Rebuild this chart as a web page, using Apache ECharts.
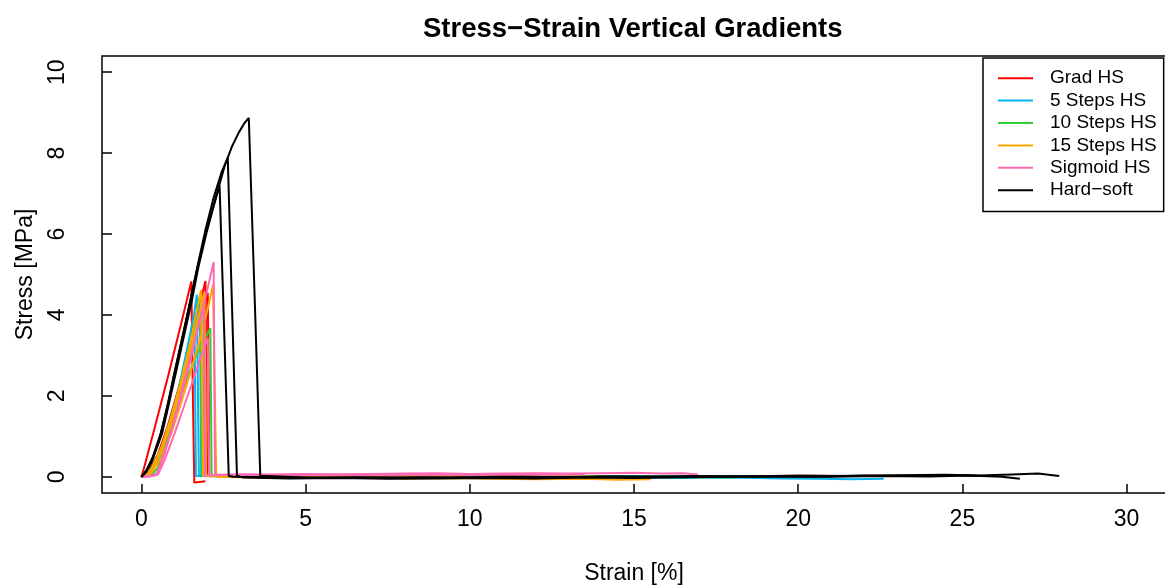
<!DOCTYPE html>
<html>
<head>
<meta charset="utf-8">
<script src="https://cdn.jsdelivr.net/npm/echarts@6/dist/echarts.min.js"></script>
<style>
html,body{margin:0;padding:0;background:#fff;}
#chart{width:1165px;height:585px;}
</style>
</head>
<body>
<div id="chart"></div>
<script>
// ---- labels / ticks ----
const chartTitle = 'Stress\u2212Strain Vertical Gradients';
const xAxisName = 'Strain [%]';
const yAxisName = 'Stress [MPa]';
const xTicks = [0, 5, 10, 15, 20, 25, 30];
const yTicks = [0, 2, 4, 6, 8, 10];
const groupNames = ['Grad HS', '5 Steps HS', '10 Steps HS', '15 Steps HS', 'Sigmoid HS', 'Hard\u2212soft'];
const groupColors = ['#FF0000', '#00B2EE', '#32CD32', '#FFA500', '#FF69B4', '#000000'];

// ---- specimen curves [strain %, stress MPa] ----
const gradHS = [
  [[0,0],[0.1,0.28],[0.4,1.2],[0.8,2.45],[1.2,3.75],[1.52,4.83],[1.56,2.4],[1.61,-0.14],[1.75,-0.13],[1.95,-0.11]],
  [[0,0],[0.2,0.1],[0.5,0.55],[0.8,1.25],[1.1,2.1],[1.4,3.0],[1.7,4.0],[1.95,4.84],[1.98,2.4],[2.0,0.04],[3,0.02],[4.5,0.01],[6,0.03],[7.5,0.01],[9,0.02],[10.5,0.01],[12,0.02]],
  [[0,0],[0.3,0.15],[0.6,0.65],[0.9,1.35],[1.2,2.2],[1.5,3.1],[1.8,3.95],[2.02,4.55],[2.05,2.2],[2.07,0.03],[3.5,0.0],[5,0.02],[6.5,0.0],[8,0.01],[9.5,0.0],[11,0.01]]
];
const steps5HS = [
  [[0,0],[0.2,0.08],[0.5,0.45],[0.8,1.15],[1.1,2.05],[1.4,3.2],[1.6,4.0],[1.69,4.5],[1.72,2.2],[1.75,0.03],[3,0.0],[4.5,-0.01],[6,0.01],[7.5,-0.01],[9,0.0],[10.5,-0.02],[12,-0.01],[13.5,-0.02],[15,-0.01],[16.5,-0.03],[18,-0.02],[19.5,-0.04],[20.7,-0.05],[21.6,-0.06],[22.6,-0.05]],
  [[0,0],[0.3,0.12],[0.6,0.55],[0.9,1.25],[1.2,2.1],[1.45,2.95],[1.62,3.55],[1.64,1.8],[1.66,0.02],[3,0.01],[4.5,0.0],[6,0.02],[7.5,0.0],[9,0.01],[10.5,0.0],[12,0.01],[13.5,0.0],[15,0.02],[16.5,0.0],[18,0.01],[19.2,0.0]],
  [[0,0],[0.3,0.18],[0.6,0.65],[0.9,1.4],[1.2,2.3],[1.5,3.3],[1.78,4.3],[1.8,2.1],[1.82,0.03],[3,0.01],[4.5,0.02],[6,0.0],[7.5,0.01],[9,0.0],[10.5,0.02],[12,0.0],[13.5,0.01],[15,0.0],[16.5,0.01],[18,0.0],[19.5,0.01],[21,0.0]]
];
const steps10HS = [
  [[0,0],[0.3,0.04],[0.5,0.22],[0.75,0.8],[1.0,1.45],[1.39,2.45],[1.7,3.05],[1.95,3.45],[2.1,3.67],[2.12,1.8],[2.14,0.03],[3.5,0.01],[5,0.02],[6.5,0.0],[8,0.01],[9.5,0.0],[11,0.02],[12.5,0.0],[14,0.01],[15.5,0.0],[17,0.01],[18,-0.01],[19,0.0]],
  [[0,0],[0.3,0.2],[0.6,0.7],[0.9,1.45],[1.2,2.35],[1.5,3.35],[1.8,4.54],[1.82,2.2],[1.84,0.03],[3,0.0],[4.5,0.01],[6,-0.01],[7.5,0.0],[9,0.01],[10.5,-0.01],[12,0.0],[13.5,0.01],[15,-0.01],[16.5,0.0],[18,-0.01]],
  [[0,0],[0.3,0.15],[0.6,0.6],[0.9,1.3],[1.2,2.15],[1.5,3.05],[1.72,3.8],[1.88,4.3],[1.9,2.1],[1.92,0.02],[3.5,0.0],[5,0.01],[6.5,0.0],[8,0.02],[9.5,0.0],[11,0.01],[12.5,0.0],[14,0.01],[15.5,0.0]]
];
const steps15HS = [
  [[0,0],[0.3,0.18],[0.6,0.7],[0.9,1.45],[1.2,2.35],[1.5,3.35],[1.82,4.62],[1.85,2.3],[1.88,0.02],[3,0.0],[4.5,-0.01],[6,0.0],[7.5,-0.01],[9,0.0],[10.5,-0.02],[12,-0.01],[13.5,0.0],[15,-0.01],[16.5,0.0],[17.2,-0.02]],
  [[0,0],[0.3,0.1],[0.6,0.45],[0.9,1.05],[1.2,1.8],[1.5,2.6],[1.8,3.45],[2.05,4.25],[2.18,4.76],[2.23,2.3],[2.28,0.0],[3.5,-0.02],[5,-0.03],[6.5,-0.02],[8,-0.04],[9.5,-0.03],[10.8,-0.05],[12,-0.06],[13.5,-0.05],[14.5,-0.07],[15.5,-0.06]],
  [[0,0],[0.3,0.14],[0.6,0.6],[0.9,1.3],[1.2,2.2],[1.5,3.15],[1.75,4.0],[1.92,4.55],[1.95,2.2],[1.97,0.02],[3.5,0.01],[5,0.0],[6.5,0.01],[8,0.0],[9.5,0.01],[11,0.0],[12.5,0.01],[14,0.0]]
];
const sigmoidHS = [
  [[0,0],[0.2,0.02],[0.45,0.05],[0.6,0.35],[0.9,1.1],[1.2,1.95],[1.5,2.9],[1.8,3.95],[2.0,4.6],[2.2,5.31],[2.22,2.6],[2.24,0.05],[3,0.06],[4,0.05],[5,0.07],[6,0.06],[7,0.07],[8,0.08],[9,0.09],[10,0.07],[11,0.08],[12,0.09],[13,0.08],[14,0.09],[15,0.1],[15.8,0.08],[16.5,0.09],[16.95,0.06]],
  [[0,0],[0.25,0.01],[0.5,0.05],[0.7,0.4],[1.0,1.05],[1.3,1.75],[1.6,2.45],[1.85,3.05],[2.02,3.43],[2.04,1.7],[2.06,0.04],[3,0.05],[4.5,0.04],[6,0.06],[7.5,0.05],[9,0.07],[10.5,0.06],[12,0.07],[13.5,0.06]],
  [[0,0],[0.3,0.02],[0.5,0.1],[0.7,0.55],[1.0,1.4],[1.3,2.35],[1.6,3.3],[1.9,4.2],[1.92,2.1],[1.94,0.04],[3,0.05],[4.5,0.06],[6,0.05],[7.5,0.06],[9,0.05],[10.5,0.06],[12,0.05],[13,0.06]]
];
const hardSoft = [
  [[0,0],[0.15,0.12],[0.35,0.45],[0.63,1.07],[0.85,1.85],[1.09,2.72],[1.3,3.5],[1.54,4.37],[1.74,5.2],[1.98,6.02],[2.25,6.85],[2.53,7.67],[2.75,8.15],[2.96,8.5],[3.12,8.72],[3.27,8.87],[3.45,4.4],[3.62,0.02],[3.8,0.02],[5,-0.02],[6.5,-0.01],[8,-0.03],[9.5,-0.02],[11,0.0],[12.5,-0.02],[14,0.01],[15.5,0.0],[17,0.02],[18.5,0.01],[20,0.03],[21.5,0.02],[23,0.04],[24.5,0.05],[25.5,0.03],[26.5,0.06],[27.3,0.08],[27.95,0.02]],
  [[0,0],[0.15,0.15],[0.35,0.5],[0.6,1.1],[0.82,1.85],[1.05,2.72],[1.28,3.55],[1.5,4.4],[1.72,5.25],[1.95,6.1],[2.2,6.9],[2.45,7.55],[2.63,7.88],[2.77,3.9],[2.91,0.03],[3.1,-0.02],[4.5,-0.04],[6,-0.03],[7.5,-0.05],[9,-0.04],[10.5,-0.03],[12,-0.04],[13.5,-0.02],[15,-0.03],[16.5,-0.01],[18,0.0],[19.5,0.01],[21,0.0],[22.5,0.02],[24,0.01],[25.2,0.03],[26.2,0.0],[26.75,-0.05]],
  [[0,0],[0.1,0.1],[0.3,0.35],[0.55,0.95],[0.78,1.7],[1.0,2.55],[1.22,3.35],[1.45,4.2],[1.7,5.15],[1.95,6.0],[2.2,6.7],[2.38,7.2],[2.52,3.6],[2.66,0.02],[2.8,0.0],[4,-0.01],[5.5,-0.03],[7,-0.02],[8.5,-0.01],[10,-0.02],[11.5,0.0],[13,-0.01],[14.5,0.01],[16,0.0],[17.5,0.01],[19,0.02],[20.5,0.01],[22,0.03],[23.5,0.02],[24.8,0.04],[25.6,0.02]]
];

const groups = [gradHS, steps5HS, steps10HS, steps15HS, sigmoidHS, hardSoft];

const FONT = '"Liberation Sans", Arial, Helvetica, sans-serif';
const series = [];
groups.forEach((grp, gi) => {
  grp.forEach(spec => {
    series.push({
      type: 'line',
      name: groupNames[gi],
      data: spec,
      showSymbol: false,
      symbol: 'none',
      smooth: false,
      silent: true,
      lineStyle: { color: groupColors[gi], width: 2 },
      itemStyle: { color: groupColors[gi] },
      emphasis: { disabled: true }
    });
  });
});

const chart = echarts.init(document.getElementById('chart'), null, { renderer: 'canvas' });
chart.setOption({
  animation: false,
  backgroundColor: '#ffffff',
  title: {
    text: chartTitle,
    left: 423,
    top: 15,
    padding: 0,
    textStyle: { fontFamily: FONT, fontWeight: 'bold', fontSize: 27.5, color: '#000' }
  },
  legend: {
    data: groupNames,
    orient: 'vertical',
    left: 983,
    top: 58,
    padding: [9, 7, 10, 15],
    borderColor: '#000',
    borderWidth: 1.5,
    backgroundColor: '#fff',
    itemWidth: 35,
    itemHeight: 2,
    itemGap: 0,
    icon: 'rect',
    selectedMode: false,
    textStyle: { fontFamily: FONT, fontSize: 19, color: '#000', lineHeight: 22.4, padding: [0, 0, 0, 12] }
  },
  grid: {
    left: 102, top: 56, width: 1064, height: 437,
    show: true, borderColor: '#000', borderWidth: 1.5,
    containLabel: false,
    outerBoundsMode: 'none'
  },
  xAxis: {
    type: 'value',
    min: -1.2, max: 31.2,
    name: xAxisName,
    nameLocation: 'middle',
    nameGap: 69,
    nameTextStyle: { fontFamily: FONT, fontSize: 23, color: '#000' },
    axisLine: { show: false, onZero: false },
    axisTick: { show: true, inside: true, length: 9, customValues: xTicks, lineStyle: { color: '#000', width: 1.5 } },
    axisLabel: { customValues: xTicks, fontFamily: FONT, fontSize: 23, color: '#000', margin: 15 },
    splitLine: { show: false }
  },
  yAxis: {
    type: 'value',
    min: -0.4, max: 10.4,
    name: yAxisName,
    nameLocation: 'middle',
    nameGap: 65,
    nameRotate: 90,
    nameTextStyle: { fontFamily: FONT, fontSize: 23, color: '#000' },
    axisLine: { show: false, onZero: false },
    axisTick: { show: true, inside: true, length: 10, customValues: yTicks, lineStyle: { color: '#000', width: 1.5 } },
    axisLabel: { customValues: yTicks, rotate: 90, fontFamily: FONT, fontSize: 23, color: '#000', margin: 33 },
    splitLine: { show: false }
  },
  series: series
});
</script>
</body>
</html>
